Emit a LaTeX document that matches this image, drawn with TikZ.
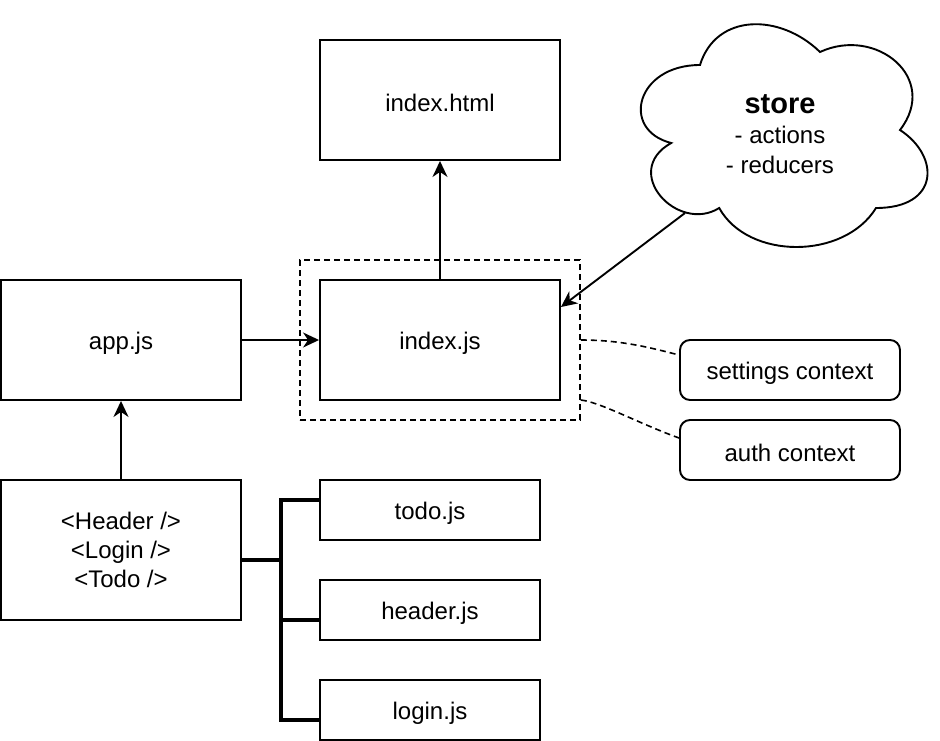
\documentclass[tikz,border=0pt]{standalone}
\usepackage{fontspec}
\setmainfont{Liberation Sans}
\usetikzlibrary{arrows.meta,calc}
\newcommand\lowr[1]{\raisebox{-3pt}[\height][\depth]{#1}}
\begin{document}
\begin{tikzpicture}[x=1pt,y=-1pt,
  box/.style={draw, line width=1.9pt, inner sep=0pt, font=\fontsize{24}{28.5}\selectfont, align=center},
  rbox/.style={box, rounded corners=10pt},
  arr/.style={line width=1.9pt, -{Stealth[length=16pt,width=15pt,inset=5pt]}},
  bus/.style={line width=3.2pt},
  dsh/.style={line width=1.6pt, dash pattern=on 6pt off 4pt},
  grpbox/.style={draw, dsh, inner sep=0pt},
]
\useasboundingbox (0,0) rectangle (940,740);

% nodes
\node[box, minimum width=240, minimum height=120] (html) at (440,100) {\lowr{index.html}};
\node[grpbox, minimum width=280, minimum height=160] (grp) at (440,340) {};
\node[box, minimum width=240, minimum height=120] (indexjs) at (440,340) {\lowr{index.js}};
\node[box, minimum width=240, minimum height=120] (app) at (121,340) {\lowr{app.js}};
\node[box, minimum width=240, minimum height=140] (hdr) at (121,550) {\lowr{\begin{tabular}{@{}c@{}}<Header />\\[0.5pt]<Login />\\[0.5pt]<Todo />\end{tabular}}};
\node[box, minimum width=220, minimum height=60] (todo) at (430,510) {\lowr{todo.js}};
\node[box, minimum width=220, minimum height=60] (headerjs) at (430,610) {\lowr{header.js}};
\node[box, minimum width=220, minimum height=60] (login) at (430,710) {\lowr{login.js}};
\node[rbox, minimum width=220, minimum height=60] (settings) at (790,370) {\lowr{settings context}};
\node[rbox, minimum width=220, minimum height=60] (auth) at (790,450) {\lowr{auth context}};

% cloud
\draw[line width=1.9pt] (700,65)
  .. controls (636,65) and (620,130) .. (671.2,143)
  .. controls (620,171.6) and (677.6,234) .. (719.2,208)
  .. controls (748,260) and (844,260) .. (876,208)
  .. controls (940,208) and (940,156) .. (900,130)
  .. controls (940,78) and (876,26) .. (820,52)
  .. controls (780,13) and (716,13) .. (700,65) -- cycle;
\node[inner sep=0pt, align=center, font=\fontsize{24}{30}\selectfont] (store) at (780,134)
  {{\fontsize{29}{30}\selectfont\bfseries store}\\- actions\\- reducers};
\coordinate (storeout) at (685,213);

% arrows
\draw[arr] (indexjs.north) -- (html.south);
\draw[arr] (app.east) -- (indexjs.west);
\draw[arr] (hdr.north) -- (app.south);
\draw[arr] (storeout) -- ([yshift=33pt]indexjs.east);

% bracket bus
\coordinate (bj) at (281,560);
\draw[bus] ([yshift=-10pt]hdr.east) -- (bj);
\draw[bus] (bj) |- ([yshift=10pt]todo.west);
\draw[bus] (bj) |- ([yshift=-10pt]headerjs.west);
\draw[bus] (bj) |- ([yshift=-10pt]login.west);

% dashed context links
\draw[dsh] (grp.east) .. controls (620,340) and (648,347) .. ([yshift=15pt]settings.west);
\draw[dsh] ([yshift=-60pt]grp.east) .. controls (600,402) and (640,424) .. ([yshift=12pt]auth.west);
\end{tikzpicture}
\end{document}
